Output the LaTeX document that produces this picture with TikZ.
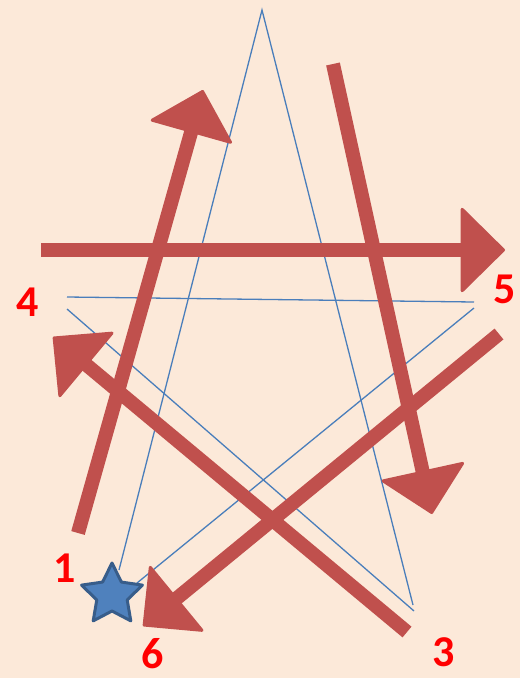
\documentclass[tikz,border=0pt]{standalone}
\usepackage{fontspec}
\setmainfont{Carlito}
\usetikzlibrary{arrows.meta,shapes.geometric}

\definecolor{sfondo}{HTML}{FCE9D9}
\definecolor{rosso}{HTML}{C0504D}
\definecolor{blu}{HTML}{4A7EBB}
\definecolor{blubordo}{HTML}{385D8A}
\definecolor{blupieno}{HTML}{4F81BD}

\tikzset{
    freccia/.style={draw=rosso, line width=14pt,
        -{Triangle[length=45pt, width=88pt, line width=3pt, round, fill=rosso]}},
    linea/.style={draw=blu, line width=1.3pt},
    numero/.style={text=red, font=\bfseries\fontsize{44}{44}\selectfont, inner sep=0pt}
}

\begin{document}
\begin{tikzpicture}[x=1pt, y=-1pt]

        % Sfondo
        \fill[sfondo] (0,0) rectangle (520,678);
        \useasboundingbox (0,0) rectangle (520,678);

        % Vertici della stella sottile
        \coordinate (T)  at (262,10);
        \coordinate (Ba) at (413,605);
        \coordinate (Bb) at (414,611);
        \coordinate (Sa) at (67,297);
        \coordinate (Sb) at (67,309);
        \coordinate (Da) at (474,302);
        \coordinate (Db) at (474,308);
        \coordinate (Ua) at (119,570);
        \coordinate (Ub) at (137,583);

        % Linee sottili
        \draw[linea] (Ua) -- (T) -- (Ba);
        \draw[linea] (Bb) -- (Sb);
        \draw[linea] (Sa) -- (Da);
        \draw[linea] (Db) -- (Ub);

        % Frecce
        \coordinate (p1) at (78,533);
        \coordinate (q1) at (203,90);
        \coordinate (p2) at (41,250);
        \coordinate (q2) at (505,250);
        \coordinate (p3) at (333,64);
        \coordinate (q3) at (432,514);
        \coordinate (p4) at (407,632);
        \coordinate (q4) at (53,337);
        \coordinate (p5) at (499,334);
        \coordinate (q5) at (143,626);

        \draw[freccia] (p1) -- (q1);
        \draw[freccia] (p2) -- (q2);
        \draw[freccia] (p3) -- (q3);
        \draw[freccia] (p4) -- (q4);
        \draw[freccia] (p5) -- (q5);

        % Stella
        \node[star, star points=5, star point ratio=2, minimum size=64pt,
              inner sep=0pt, fill=blupieno, draw=blubordo, line width=3pt,
              line join=round] (stella) at (112,595) {};

        % Numeri
        \node[numero] (n1) at (65,568) {1};
        \node[numero] (n3) at (444,652) {3};
        \node[numero] (n4) at (28,302) {4};
        \node[numero] (n5) at (505,289) {5};
        \node[numero] (n6) at (153,654) {6};

    \end{tikzpicture}
\end{document}
